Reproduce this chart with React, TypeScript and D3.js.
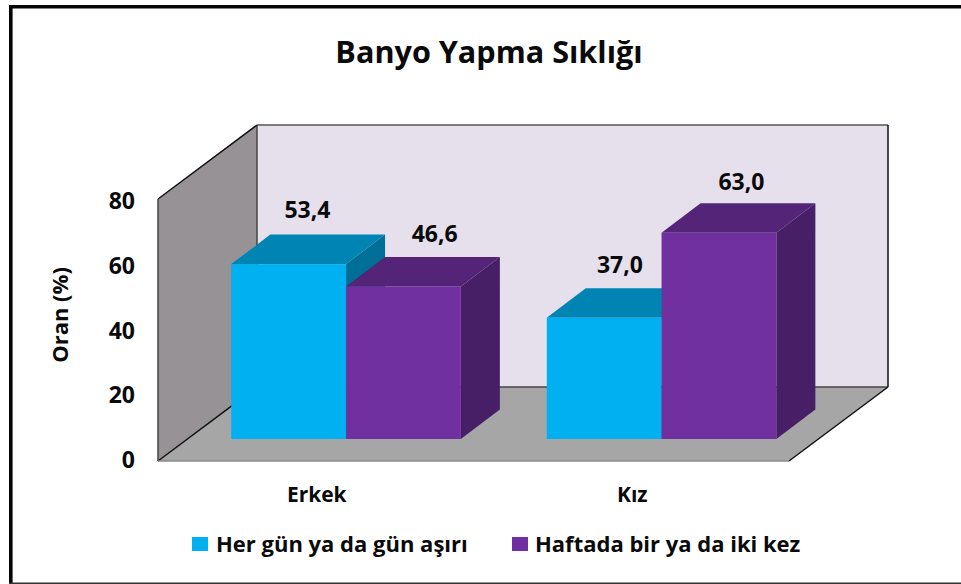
import React from "react";
import * as d3 from "d3";

const categories = ["Erkek", "Kız"];
const seriesNames = ["Her gün ya da gün aşırı", "Haftada bir ya da iki kez"];
const seriesA = [53.4, 37.0];
const seriesB = [46.6, 63.0];
const yTicks = [0, 20, 40, 60, 80];
const title = "Banyo Yapma Sıklığı";
const yTitle = "Oran (%)";

const FONT = "'Open Sans', sans-serif";
const FRONT = "#00B0F0";
const FRONT_TOP = "#0084B4";
const FRONT_SIDE = "#006F97";
const BACK = "#7030A0";
const BACK_TOP = "#542478";
const BACK_SIDE = "#471F66";

const DX = 99;
const DY = 74;
const barDX = 39;
const barDY = 29.5;
const floorX0 = 158;
const floorX1 = 789;
const y0 = 461;
const y80 = 199;
const groupWidth = 229.6;

// label placement nudges: [dx, dy] relative to the bar top
const nudgeA: [number, number][] = [[-0.75, -46], [-3.75, -45]];
const nudgeB: [number, number][] = [[11.75, -44.4], [3, -42.7]];

const x = d3.scaleBand<string>().domain(categories).range([floorX0, floorX1]);
const y = d3.scaleLinear().domain([0, 80]).range([y0, y80]);
const yLabel = d3.scaleLinear().domain([0, 80]).range([468, 209]);
const inner = d3.scaleBand<number>().domain([0, 1]).range([0, groupWidth]);

const poly = (pts: [number, number][]) => pts.map((p) => p.join(",")).join(" ");
const fmt = (v: number) => v.toFixed(1).replace(".", ",");

function Bar({ left, width, value, front, top, side, base }: any) {
  const h = y0 - y(value);
  const t = base - h;
  const r = left + width;
  return (
    <g>
      <polygon points={poly([[r, base], [r + barDX, base - barDY], [r + barDX, t - barDY], [r, t]])} fill={side} />
      <polygon points={poly([[left, t], [left + barDX, t - barDY], [r + barDX, t - barDY], [r, t]])} fill={top} />
      <rect x={left} y={t} width={width} height={h} fill={front} />
    </g>
  );
}

export default function App() {
  const base = 439;
  const shift = 30.5;
  const bw = inner.bandwidth();
  const groups = categories.map((c, i) => ({ c, i, left: (x(c) as number) + (x.bandwidth() - 230) / 2 + shift }));
  const topOf = (v: number) => base - (y0 - y(v));
  return (
    <svg width={961} height={584} style={{ position: "absolute", left: 0, top: 0, background: "#fff" }} fontFamily={FONT} fontWeight={700} fill="#0a0a0a">
      <line x1={9} y1={6.7} x2={961} y2={6.7} stroke="#050505" strokeWidth={3.4} />
      <line x1={10.8} y1={5} x2={10.8} y2={584} stroke="#050505" strokeWidth={3.6} />
      <line x1={9} y1={583.3} x2={961} y2={583.3} stroke="#333" strokeWidth={1.4} />

      <text x={489} y={63} textAnchor="middle" fontSize={30.6}>{title}</text>

      <polygon points={poly([[floorX0 + DX, y80 - DY], [floorX1 + DX, y80 - DY], [floorX1 + DX, y0 - DY], [floorX0 + DX, y0 - DY]])} fill="#E6E0EC" />
      <polygon points={poly([[floorX0, y80], [floorX0 + DX, y80 - DY], [floorX0 + DX, y0 - DY], [floorX0, y0]])} fill="#969296" />
      <polygon points={poly([[floorX0, y0], [floorX0 + DX, y0 - DY], [floorX1 + DX, y0 - DY], [floorX1, y0]])} fill="#A6A6A6" />

      <g fill="none" strokeWidth={1.5}>
        <line x1={floorX0 + DX} y1={y80 - DY} x2={floorX1 + DX} y2={y80 - DY} stroke="#555" />
        <line x1={floorX1 + DX} y1={y80 - DY} x2={floorX1 + DX} y2={y0 - DY} stroke="#111" />
        <line x1={floorX0 + DX} y1={y80 - DY} x2={floorX0 + DX} y2={y0 - DY} stroke="#444" />
        <line x1={floorX0 + DX} y1={y0 - DY} x2={floorX1 + DX} y2={y0 - DY} stroke="#444" />
        <line x1={floorX0} y1={y80} x2={floorX0 + DX} y2={y80 - DY} stroke="#111" />
        <line x1={floorX0} y1={y80} x2={floorX0} y2={y0} stroke="#444" />
        <line x1={floorX0} y1={y0} x2={floorX0 + DX} y2={y0 - DY} stroke="#111" />
        <line x1={floorX1} y1={y0} x2={floorX1 + DX} y2={y0 - DY} stroke="#111" />
        <line x1={floorX0} y1={y0} x2={floorX1} y2={y0} stroke="#8a8a8a" />
      </g>

      {groups.map((g) => (
        <g key={g.c}>
          <Bar left={g.left} width={bw} value={seriesA[g.i]} front={FRONT} top={FRONT_TOP} side={FRONT_SIDE} base={base} />
          <Bar left={g.left + (inner(1) as number)} width={bw} value={seriesB[g.i]} front={BACK} top={BACK_TOP} side={BACK_SIDE} base={base} />
        </g>
      ))}

      {groups.map((g) => (
        <g key={g.c + "l"} fontSize={23} textAnchor="middle">
          <text x={g.left + bw / 2 + 19.5 + nudgeA[g.i][0]} y={topOf(seriesA[g.i]) + nudgeA[g.i][1]}>{fmt(seriesA[g.i])}</text>
          <text x={g.left + bw * 1.5 + 19.5 + nudgeB[g.i][0]} y={topOf(seriesB[g.i]) + nudgeB[g.i][1]}>{fmt(seriesB[g.i])}</text>
        </g>
      ))}

      {yTicks.map((t) => (
        <text key={t} x={135} y={yLabel(t)} textAnchor="end" fontSize={23}>{t}</text>
      ))}
      <text transform="translate(68,315) rotate(-90)" textAnchor="middle" fontSize={22}>{yTitle}</text>

      {categories.map((c) => (
        <text key={c} x={(x(c) as number) + x.bandwidth() / 2 + 1} y={502} textAnchor="middle" fontSize={21}>{c}</text>
      ))}

      <rect x={192} y={537} width={16} height={14} fill={FRONT} />
      <text x={216} y={552} fontSize={22}>{seriesNames[0]}</text>
      <rect x={512} y={537} width={16} height={14} fill={BACK} />
      <text x={535} y={552} fontSize={22}>{seriesNames[1]}</text>
    </svg>
  );
}
